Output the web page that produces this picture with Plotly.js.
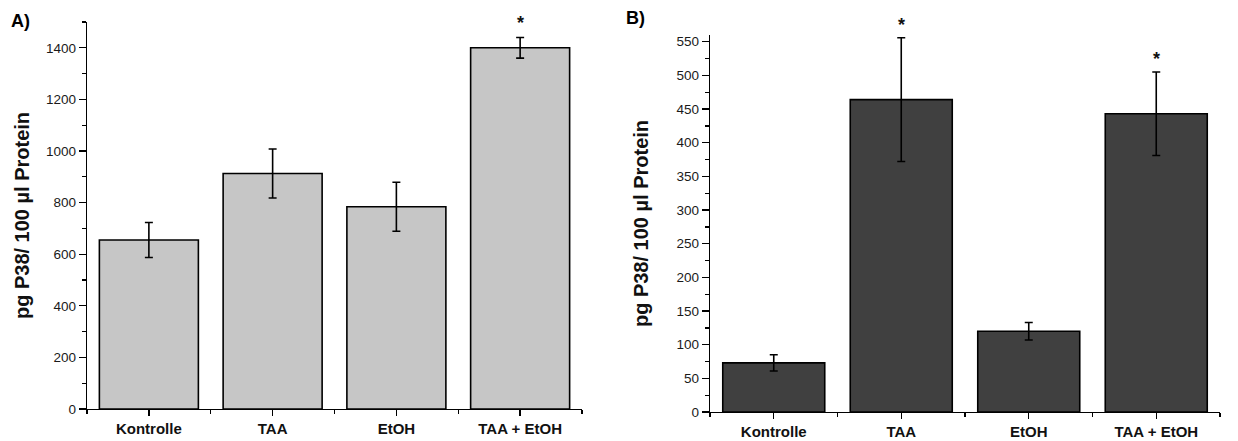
<!DOCTYPE html>
<html>
<head>
<meta charset="utf-8">
<script src="https://cdn.plot.ly/plotly-3.0.1.min.js"></script>
<style>
  html, body { margin: 0; padding: 0; background: #ffffff; }
  #chart { width: 1238px; height: 441px; }
</style>
</head>
<body>
<div id="chart"></div>
<script>
// ---- Data ----
const categories = ["Kontrolle", "TAA", "EtOH", "TAA + EtOH"];

const valuesA = [655, 913, 784, 1400];
const errorsA = [68, 95, 95, 40];
const signifA = [false, false, false, true];

const valuesB = [73, 464, 120, 443];
const errorsB = [12, 92, 13, 62];
const signifB = [false, true, false, true];

const yTitle = "pg P38/ 100 µl Protein";
const panelLabels = ["A)", "B)"];

// ---- Helpers ----
const idx = categories.map((_, i) => i);
const bounds = categories.map((_, i) => i - 0.5).concat([categories.length - 0.5]);
const FONT = "Liberation Sans, Arial, sans-serif";

function barTrace(vals, errs, color, xa, ya) {
  return {
    type: "bar",
    x: idx,
    y: vals,
    width: 0.8,
    xaxis: xa,
    yaxis: ya,
    marker: { color: color, line: { color: "#000000", width: 1.6 } },
    error_y: { type: "data", array: errs, visible: true, color: "#000000", thickness: 1.6, width: 4 },
    hoverinfo: "skip",
    showlegend: false
  };
}

function xAxis(domain, anchor) {
  return {
    domain: domain, anchor: anchor,
    range: [-0.5, categories.length - 0.5],
    tickmode: "array", tickvals: idx, ticktext: categories,
    ticks: "outside", ticklen: 6, tickwidth: 1.3, tickcolor: "#000",
    minor: { tickmode: "array", tickvals: bounds, ticks: "outside", ticklen: 4, tickwidth: 1.3, tickcolor: "#000" },
    showline: true, linecolor: "#000", linewidth: 1.3,
    showgrid: false, zeroline: false, fixedrange: true,
    tickfont: { family: FONT, size: 15, color: "#111", weight: "bold" }
  };
}

function yAxis(domain, anchor, range, dtick, minorDtick, standoff) {
  return {
    domain: domain, anchor: anchor,
    range: range, tickmode: "linear", tick0: 0, dtick: dtick,
    ticks: "outside", ticklen: 7, tickwidth: 1.3, tickcolor: "#000",
    minor: { dtick: minorDtick, tick0: 0, ticks: "outside", ticklen: 4, tickwidth: 1.3, tickcolor: "#000" },
    showline: true, linecolor: "#000", linewidth: 1.3,
    showgrid: false, zeroline: false, fixedrange: true,
    tickfont: { family: FONT, size: 13.5, color: "#1a1a1a" },
    title: { text: yTitle, font: { family: FONT, size: 20, color: "#111", weight: "bold" }, standoff: standoff }
  };
}

const traces = [
  barTrace(valuesA, errorsA, "#c6c6c6", "x", "y"),
  barTrace(valuesB, errorsB, "#404040", "x2", "y2")
];

const annotations = [];
valuesA.forEach((v, i) => {
  if (signifA[i]) annotations.push({
    xref: "x", yref: "y", x: idx[i], y: v + errorsA[i], yanchor: "bottom",
    yshift: 2, text: "<b>*</b>", showarrow: false, font: { family: FONT, size: 18, color: "#111" }
  });
});
valuesB.forEach((v, i) => {
  if (signifB[i]) annotations.push({
    xref: "x2", yref: "y2", x: idx[i], y: v + errorsB[i], yanchor: "bottom",
    yshift: 1, text: "<b>*</b>", showarrow: false, font: { family: FONT, size: 18, color: "#111" }
  });
});
annotations.push({
  xref: "paper", yref: "paper", x: 9 / 1238, y: 1 - 21 / 441, xanchor: "left", yanchor: "middle",
  text: panelLabels[0], showarrow: false, font: { family: FONT, size: 18, color: "#000", weight: "bold" }
});
annotations.push({
  xref: "paper", yref: "paper", x: 624 / 1238, y: 1 - 18 / 441, xanchor: "left", yanchor: "middle",
  text: panelLabels[1], showarrow: false, font: { family: FONT, size: 18, color: "#000", weight: "bold" }
});

const layout = {
  width: 1238, height: 441,
  margin: { l: 0, r: 0, t: 0, b: 0 },
  paper_bgcolor: "#ffffff", plot_bgcolor: "#ffffff",
  showlegend: false,
  xaxis: xAxis([87 / 1238, 582 / 1238], "y"),
  yaxis: yAxis([32 / 441, 419 / 441], "x", [0, 1500], 200, 100, 11),
  xaxis2: xAxis([710 / 1238, 1220 / 1238], "y2"),
  yaxis2: yAxis([29 / 441, 406 / 441], "x2", [0, 560], 50, 25, 22),
  annotations: annotations
};

Plotly.newPlot("chart", traces, layout, { staticPlot: true, displayModeBar: false });
</script>
</body>
</html>
